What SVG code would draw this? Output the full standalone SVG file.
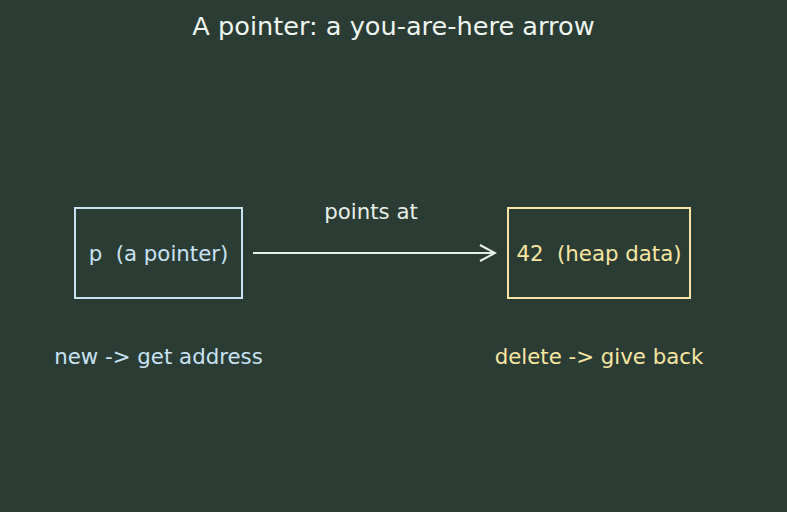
<svg xmlns="http://www.w3.org/2000/svg" width="787" height="512" viewBox="0 0 787 512">
<style>
text{font-family:"DejaVu Sans","Liberation Sans",sans-serif;text-anchor:middle;white-space:pre}
.t{font-size:25.6px;fill:#eef4ee}
.l{font-size:21.3px}
.blue{fill:#c8e2f2}
.yel{fill:#f7e6a2}
.box1{fill:none;stroke:#c8e2f2;stroke-width:2}
.box2{fill:none;stroke:#f7e6a2;stroke-width:2}
.edge{stroke:#e6eee6;stroke-width:2;fill:none}
</style>
<defs>
<marker id="arr" markerWidth="18" markerHeight="20" refX="16" refY="9" orient="auto" markerUnits="userSpaceOnUse">
<path d="M1,1 L16,9 L1,17" fill="none" stroke="#e6eee6" stroke-width="2"/>
</marker>
</defs>
<rect width="787" height="512" fill="#2b3c35"/>
<text class="t" x="393.5" y="35">A pointer: a you-are-here arrow</text>
<g id="connectors">
<line class="edge" x1="253" y1="253" x2="495" y2="253" marker-end="url(#arr)"/>
<text class="l" x="371" y="218.5" fill="#e6eee6">points at</text>
</g>
<g id="pointer">
<rect class="box1" x="75" y="208" width="167" height="90"/>
<text class="l blue" x="158.5" y="260.5" xml:space="preserve">p  (a pointer)</text>
</g>
<g id="heap">
<rect class="box2" x="508" y="208" width="182" height="90"/>
<text class="l yel" x="599" y="260.5" xml:space="preserve">42  (heap data)</text>
</g>
<g id="new-label">
<text class="l blue" x="158.5" y="363.5">new -&gt; get address</text>
</g>
<g id="delete-label">
<text class="l yel" x="599" y="363.5">delete -&gt; give back</text>
</g>
</svg>
